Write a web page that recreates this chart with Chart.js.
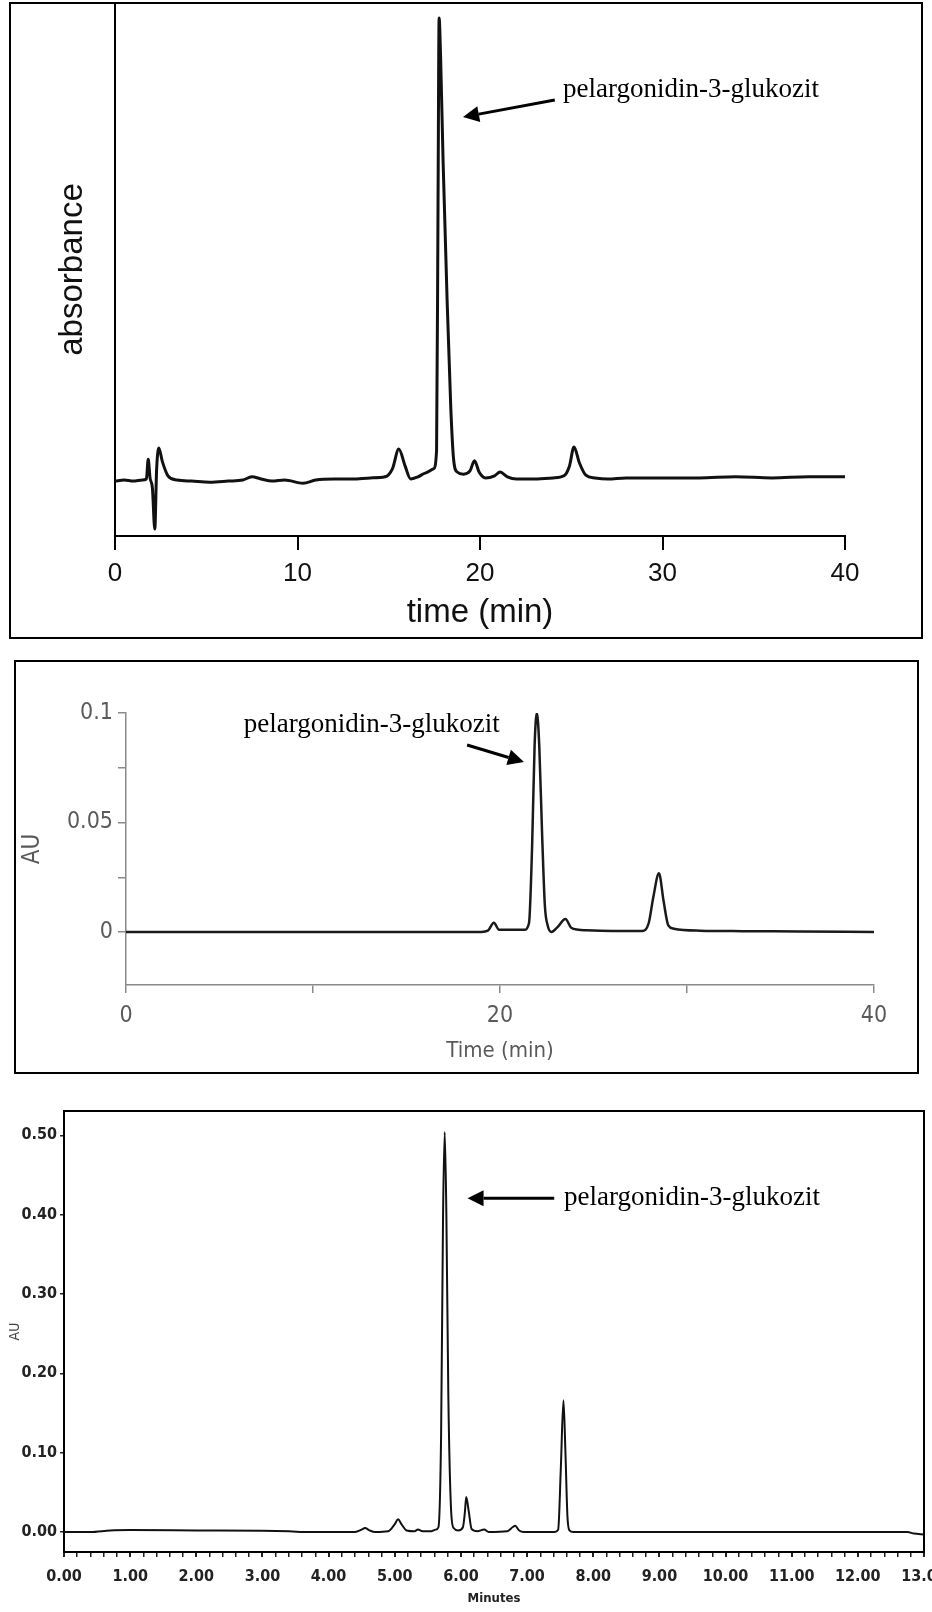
<!DOCTYPE html>
<html>
<head>
<meta charset="utf-8">
<script src="https://cdn.jsdelivr.net/npm/chart.js@4.4.0/dist/chart.umd.min.js"></script>
<style>
body { margin: 0; background: #fff; width: 932px; height: 1612px; position: relative; overflow: hidden; }
.box { position: absolute; border: 2px solid #000; box-sizing: border-box; }
canvas { position: absolute; left: 0; }
</style>
</head>
<body>
<div class="box" style="left:9px; top:2px; width:914px; height:637px;"></div>
<div class="box" style="left:14px; top:660px; width:905px; height:414px; border-width:2.5px;"></div>
<canvas id="chart-1" width="932" height="645" style="top:0"></canvas>
<canvas id="chart-2" width="932" height="430" style="top:650px"></canvas>
<canvas id="chart-3" width="932" height="527" style="top:1085px"></canvas>
<script>
const peakName = 'pelargonidin-3-glukozit';

// chart 1 - absorbance (arbitrary units), time in min
const trace1Time = [0, 0.5, 1.0, 1.5, 1.72, 1.82, 1.92, 2.05, 2.18, 2.28, 2.4, 2.6, 2.9, 3.4, 4.2, 5.2, 6.2, 7.0, 7.5, 8.0,
    8.6, 9.3, 10.3, 11.0, 12.0, 13.0, 14.0, 14.8, 15.2, 15.55, 15.9, 16.2, 16.6, 17.0, 17.45, 17.62, 17.70, 17.76, 17.84, 17.98,
    18.2, 18.4, 18.55, 18.75, 19.1, 19.45, 19.7, 19.95, 20.3, 20.8, 21.1, 21.5, 22.0, 23.0, 24.0, 24.6, 24.9, 25.15, 25.45, 25.8,
    26.3, 27.0, 28.0, 30.0, 32.0, 34.0, 36.0, 38.0, 40.0];
const trace1Abs = [10.3, 10.5, 10.3, 10.5, 10.7, 14.4, 10.9, 9.0, 1.3, 12.4, 16.5, 13.9, 11.3, 10.5, 10.3, 10.1, 10.3, 10.5, 11.1, 10.7,
    10.3, 10.5, 9.9, 10.5, 10.7, 10.7, 10.9, 11.1, 12.6, 16.3, 13.1, 10.7, 11.1, 11.8, 12.6, 16.0, 62.0, 97.2, 90.0, 70.0,
    44.0, 24.0, 14.5, 12.0, 11.6, 12.2, 14.1, 12.0, 10.9, 11.3, 12.0, 11.1, 10.7, 10.7, 10.9, 11.3, 13.1, 16.7, 13.7, 11.4,
    10.9, 10.7, 10.9, 10.9, 10.9, 11.1, 10.9, 11.1, 11.1];
const ticks1X = [0, 10, 20, 30, 40];

// chart 2 - AU, time in min
const trace2Time = [0, 10, 19.0, 19.35, 19.67, 19.95, 20.5, 21.3, 21.55, 21.72, 21.85, 21.97, 22.1, 22.25, 22.4, 22.55, 22.75, 23.05,
    23.5, 23.8, 24.2, 24.6, 26.0, 27.6, 27.95, 28.2, 28.5, 28.75, 29.0, 29.3, 30.7, 33.0, 36.0, 40.0];
const trace2AU = [0, 0, 0, 0.0006, 0.0042, 0.001, 0.001, 0.001, 0.004, 0.04, 0.085, 0.1, 0.085, 0.045, 0.012, 0.003, 0.0, 0.002,
    0.0059, 0.002, 0.001, 0.0008, 0.0005, 0.0005, 0.004, 0.016, 0.0268, 0.014, 0.003, 0.0015, 0.0006, 0.0004, 0.0002, 0.0];
const ticks2X = [0, 10, 20, 30, 40];
const labels2X = ['0', '', '20', '', '40'];
const ticks2Y = [0, 0.025, 0.05, 0.075, 0.1];
const labels2Y = ['0', '', '0.05', '', '0.1'];

// chart 3 - AU, minutes
const trace3Time = [0, 0.4, 0.7, 1.0, 2.0, 3.0, 3.4, 3.7, 4.4, 4.5, 4.55, 4.62, 4.7, 4.9, 5.0, 5.05, 5.1, 5.18, 5.3, 5.35,
    5.42, 5.55, 5.62, 5.66, 5.70, 5.73, 5.755, 5.78, 5.81, 5.85, 5.89, 5.96, 6.03, 6.06, 6.08, 6.12, 6.16, 6.25, 6.35, 6.42,
    6.7, 6.78, 6.82, 6.88, 6.95, 7.42, 7.47, 7.51, 7.55, 7.58, 7.61, 7.64, 7.7, 12.75, 12.85, 13.0];
const trace3AU = [0, 0, 0.002, 0.0025, 0.002, 0.0015, 0.0008, 0, 0, 0.003, 0.005, 0.002, 0, 0.001, 0.01, 0.016, 0.01, 0.002, 0.001, 0.003,
    0.001, 0.001, 0.003, 0.006, 0.12, 0.4, 0.504, 0.4, 0.17, 0.03, 0.005, 0.002, 0.006, 0.025, 0.044, 0.025, 0.004, 0.001, 0.003, 0.0,
    0.001, 0.006, 0.008, 0.002, 0, 0, 0.003, 0.08, 0.166, 0.1, 0.02, 0.002, 0, 0, -0.002, -0.003];
const ticks3Y = [0, 0.1, 0.2, 0.3, 0.4, 0.5];
const labels3Y = ['0.00', '0.10', '0.20', '0.30', '0.40', '0.50'];
const labels3X = ['0.00', '1.00', '2.00', '3.00', '4.00', '5.00', '6.00', '7.00', '8.00', '9.00', '10.00', '11.00', '12.00', '13.00'];

const serif = '"Liberation Serif", "Times New Roman", serif';
const sans = '"Liberation Sans", Arial, sans-serif';
const narrow = '"Liberation Sans Narrow", "DejaVu Sans Condensed", "Arial Narrow", sans-serif';

// fixed axis thickness so the plot areas line up with the picture
function fixSize(size) {
    return s => {
        if (s.isHorizontal()) s.height = size; else s.width = size;
        s.paddingLeft = 0; s.paddingRight = 0; s.paddingTop = 0; s.paddingBottom = 0;
    };
}

function setTicks(values) {
    return s => { s.ticks = values.map(v => ({ value: v })); };
}

function drawArrow(ctx, x0, y0, x1, y1, head, half) {
    const a = Math.atan2(y1 - y0, x1 - x0);
    const bx = x1 - head * Math.cos(a), by = y1 - head * Math.sin(a);
    ctx.beginPath();
    ctx.moveTo(x0, y0);
    ctx.lineTo(bx, by);
    ctx.stroke();
    ctx.beginPath();
    ctx.moveTo(x1, y1);
    ctx.lineTo(bx - half * Math.sin(a), by + half * Math.cos(a));
    ctx.lineTo(bx + half * Math.sin(a), by - half * Math.cos(a));
    ctx.closePath();
    ctx.fill();
}

const annotate = {
    id: 'annotate',
    afterDraw(chart, args, opts) {
        const { ctx, chartArea, scales: { x, y } } = chart;
        ctx.save();
        ctx.strokeStyle = '#000';
        ctx.fillStyle = '#000';
        if (opts.frame) {
            ctx.lineWidth = 2;
            ctx.beginPath();
            ctx.moveTo(chartArea.left, chartArea.top);
            ctx.lineTo(chartArea.right, chartArea.top);
            ctx.lineTo(chartArea.right, chartArea.bottom);
            ctx.stroke();
        }
        ctx.font = opts.font;
        ctx.textBaseline = 'middle';
        ctx.textAlign = 'left';
        ctx.fillText(opts.text, x.getPixelForValue(opts.at[0]), y.getPixelForValue(opts.at[1]));
        ctx.lineWidth = 3;
        drawArrow(ctx, x.getPixelForValue(opts.from[0]), y.getPixelForValue(opts.from[1]),
            x.getPixelForValue(opts.to[0]), y.getPixelForValue(opts.to[1]), 16, 8);
        ctx.restore();
    }
};

function points(xs, ys) {
    return xs.map((t, i) => ({ x: t, y: ys[i] }));
}

// ---- chart 1
new Chart(document.getElementById('chart-1'), {
    type: 'line',
    data: {
        datasets: [{
            data: points(trace1Time, trace1Abs),
            borderColor: '#111',
            borderWidth: 3,
            pointRadius: 0,
            cubicInterpolationMode: 'monotone'
        }]
    },
    options: {
        responsive: false,
        animation: false,
        layout: { padding: { left: 0, top: 3, right: 87, bottom: 0 } },
        plugins: {
            legend: { display: false },
            tooltip: { enabled: false },
            annotate: { text: peakName, font: '27px ' + serif, at: [24.55, 83.7], from: [24.1, 81.8], to: [19.07, 78.6] }
        },
        scales: {
            x: {
                type: 'linear', min: 0, max: 40,
                afterFit: fixSize(109),
                afterBuildTicks: setTicks(ticks1X),
                grid: { drawOnChartArea: false, tickLength: 14, color: '#000', lineWidth: 2 },
                border: { color: '#000', width: 2 },
                ticks: { color: '#111', padding: 8, maxRotation: 0, font: { family: sans, size: 26 } },
                title: { display: true, text: 'time (min)', color: '#111', font: { family: sans, size: 33 }, padding: { top: 0, bottom: 12 } }
            },
            y: {
                min: 0, max: 100,
                afterFit: fixSize(115),
                grid: { display: false },
                border: { color: '#000', width: 2 },
                ticks: { display: false },
                title: { display: true, text: 'absorbance', color: '#111', font: { family: sans, size: 33 }, padding: { top: 53, bottom: 0 } }
            }
        }
    },
    plugins: [annotate]
});

// ---- chart 2
new Chart(document.getElementById('chart-2'), {
    type: 'line',
    data: {
        datasets: [{
            data: points(trace2Time, trace2AU),
            borderColor: '#1a1a1a',
            borderWidth: 2.5,
            pointRadius: 0,
            cubicInterpolationMode: 'monotone'
        }]
    },
    options: {
        responsive: false,
        animation: false,
        layout: { padding: { left: 0, top: 63, right: 58, bottom: 0 } },
        plugins: {
            legend: { display: false },
            tooltip: { enabled: false },
            annotate: { text: peakName, font: '27px ' + serif, at: [6.3, 0.0945], from: [18.24, 0.0854], to: [21.28, 0.0776] }
        },
        scales: {
            x: {
                type: 'linear', min: 0, max: 40,
                afterFit: fixSize(95),
                afterBuildTicks: setTicks(ticks2X),
                grid: { drawOnChartArea: false, tickLength: 8, color: '#8a8a8a', lineWidth: 1.5 },
                border: { color: '#8a8a8a', width: 1.5 },
                ticks: {
                    color: '#5a5a5a', padding: 9, maxRotation: 0, autoSkip: false,
                    font: { family: narrow, size: 23 },
                    callback: (v, i) => labels2X[i]
                },
                title: { display: true, text: 'Time (min)', color: '#5a5a5a', font: { family: narrow, size: 22 }, padding: { top: 0, bottom: 16 } }
            },
            y: {
                min: -0.0242, max: 0.1,
                afterFit: fixSize(126),
                afterBuildTicks: setTicks(ticks2Y),
                grid: { drawOnChartArea: false, tickLength: 8, color: '#8a8a8a', lineWidth: 1.5 },
                border: { color: '#8a8a8a', width: 1.5 },
                ticks: {
                    color: '#5a5a5a', padding: 5, autoSkip: false,
                    font: { family: narrow, size: 23 },
                    callback: (v, i) => labels2Y[i]
                },
                title: { display: true, text: 'AU', color: '#5a5a5a', font: { family: narrow, size: 24 }, padding: { top: 18, bottom: 0 } }
            }
        }
    },
    plugins: [annotate]
});

// ---- chart 3
const minuteTicks = [];
for (let i = 0; i <= 65; i++) minuteTicks.push(i / 5);

new Chart(document.getElementById('chart-3'), {
    type: 'line',
    data: {
        datasets: [{
            data: points(trace3Time, trace3AU),
            borderColor: '#111',
            borderWidth: 2,
            pointRadius: 0,
            cubicInterpolationMode: 'monotone'
        }]
    },
    options: {
        responsive: false,
        animation: false,
        layout: { padding: { left: 0, top: 26, right: 8, bottom: 0 } },
        plugins: {
            legend: { display: false },
            tooltip: { enabled: false },
            annotate: { frame: true, text: peakName, font: '27px ' + serif, at: [7.56, 0.421], from: [7.41, 0.4207], to: [6.1, 0.4207] }
        },
        scales: {
            x: {
                type: 'linear', min: 0, max: 13,
                afterFit: fixSize(60),
                afterBuildTicks: setTicks(minuteTicks),
                grid: {
                    drawOnChartArea: false, tickLength: 5, color: '#222',
                    lineWidth: ctx => (ctx.index % 5 === 0 ? 2 : 1.5)
                },
                border: { color: '#000', width: 2 },
                ticks: {
                    color: '#222', padding: 10, maxRotation: 0, autoSkip: false,
                    font: { family: narrow, size: 16, weight: 'bold' },
                    callback: (v, i) => (i % 5 === 0 ? labels3X[i / 5] : '')
                },
                title: { display: true, text: 'Minutes', color: '#222', font: { family: narrow, size: 13, weight: 'bold' }, padding: { top: 0, bottom: 6 } }
            },
            y: {
                min: -0.0252, max: 0.5306,
                afterFit: fixSize(64),
                afterBuildTicks: setTicks(ticks3Y),
                grid: { drawOnChartArea: false, tickLength: 4, color: '#222', lineWidth: 1.5 },
                border: { color: '#000', width: 2 },
                ticks: {
                    color: '#222', padding: 3, autoSkip: false,
                    font: { family: narrow, size: 16, weight: 'bold' },
                    callback: (v, i) => labels3Y[i]
                },
                title: { display: true, text: 'AU', color: '#444', font: { family: narrow, size: 14 }, padding: { top: 7, bottom: 0 } }
            }
        }
    },
    plugins: [annotate]
});
</script>
</body>
</html>
